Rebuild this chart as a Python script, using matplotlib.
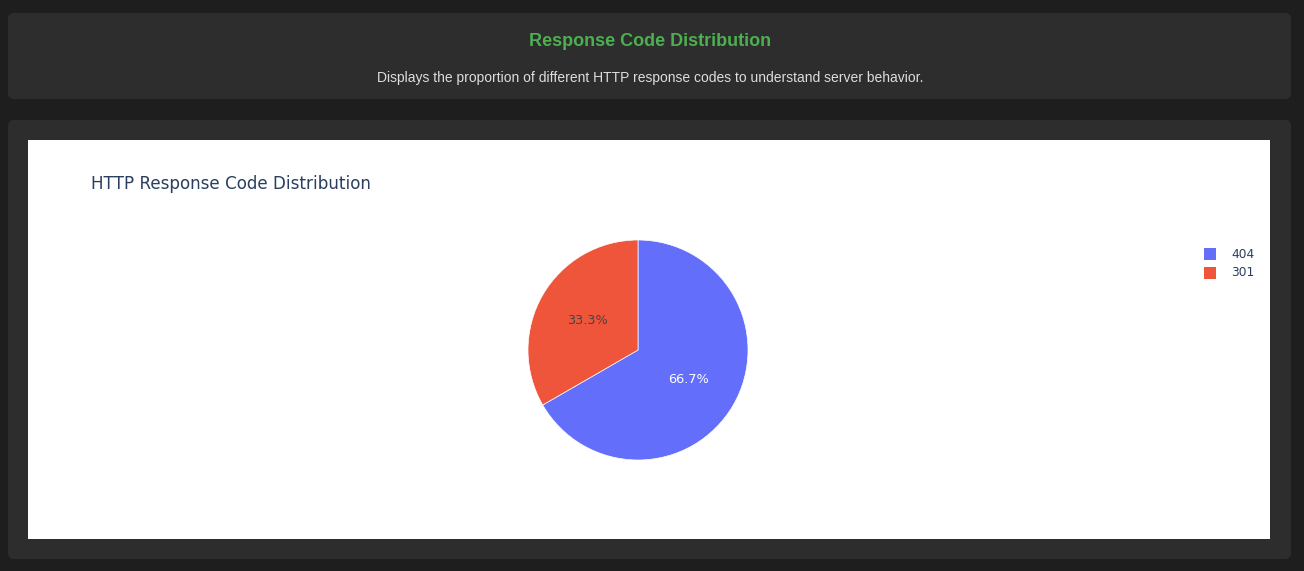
"""
Response code distribution — pie chart of HTTP response codes on a dark dashboard card.
"""

import matplotlib
matplotlib.use('Agg')
import matplotlib.pyplot as plt
from matplotlib.patches import FancyBboxPatch, Rectangle

codes = ['404', '301']
counts = [2, 1]
colors = ['#636efa', '#ef553b']
pct_colors = ['white', '#444444']

W, H = 1304, 571
fig = plt.figure(figsize=(W / 100, H / 100), dpi=100, facecolor='#1e1e1e')

# background layer in pixel coordinates
bg = fig.add_axes([0, 0, 1, 1])
bg.set_xlim(0, W)
bg.set_ylim(H, 0)
bg.axis('off')

for x0, y0, x1, y1 in [(8, 13, 1291, 99), (8, 120, 1291, 559)]:
    bg.add_patch(FancyBboxPatch((x0 + 6, y0 + 6), x1 - x0 - 12, y1 - y0 - 12,
                                boxstyle='round,pad=6', fc='#2d2d2d', ec='none'))
bg.add_patch(Rectangle((28, 140), 1242, 399, fc='white', ec='none'))

bg.text(650, 41, 'Response Code Distribution', color='#4caf50', fontsize=13,
        fontweight='bold', family='Liberation Sans', ha='center', va='center')
bg.text(650, 78, 'Displays the proportion of different HTTP response codes to understand server behavior.',
        color='#dddddd', fontsize=10, family='Liberation Sans', ha='center', va='center')
bg.text(91, 184, 'HTTP Response Code Distribution', color='#2a3f5f', fontsize=12.1,
        family='DejaVu Sans', ha='left', va='center')

# legend
for i, (code, col) in enumerate(zip(codes, colors)):
    y = 254 + i * 19
    bg.add_patch(Rectangle((1204, y - 6), 12, 12, fc=col, ec='none'))
    bg.text(1231, y, code, color='#2a3f5f', fontsize=8.8, ha='left', va='center')

# pie
cx, cy, r = 638, 350, 110
ax = fig.add_axes([(cx - r) / W, (H - cy - r) / H, 2 * r / W, 2 * r / H])
wedges, texts, autotexts = ax.pie(counts, colors=colors, startangle=90, counterclock=False,
                                  autopct='%1.1f%%', pctdistance=0.53,
                                  wedgeprops=dict(edgecolor='white', linewidth=0.5),
                                  textprops=dict(fontsize=9.3))
for t, c in zip(autotexts, pct_colors):
    t.set_color(c)
ax.set_xlim(-1, 1)
ax.set_ylim(-1, 1)

plt.savefig('out.png', dpi=100, facecolor=fig.get_facecolor())
